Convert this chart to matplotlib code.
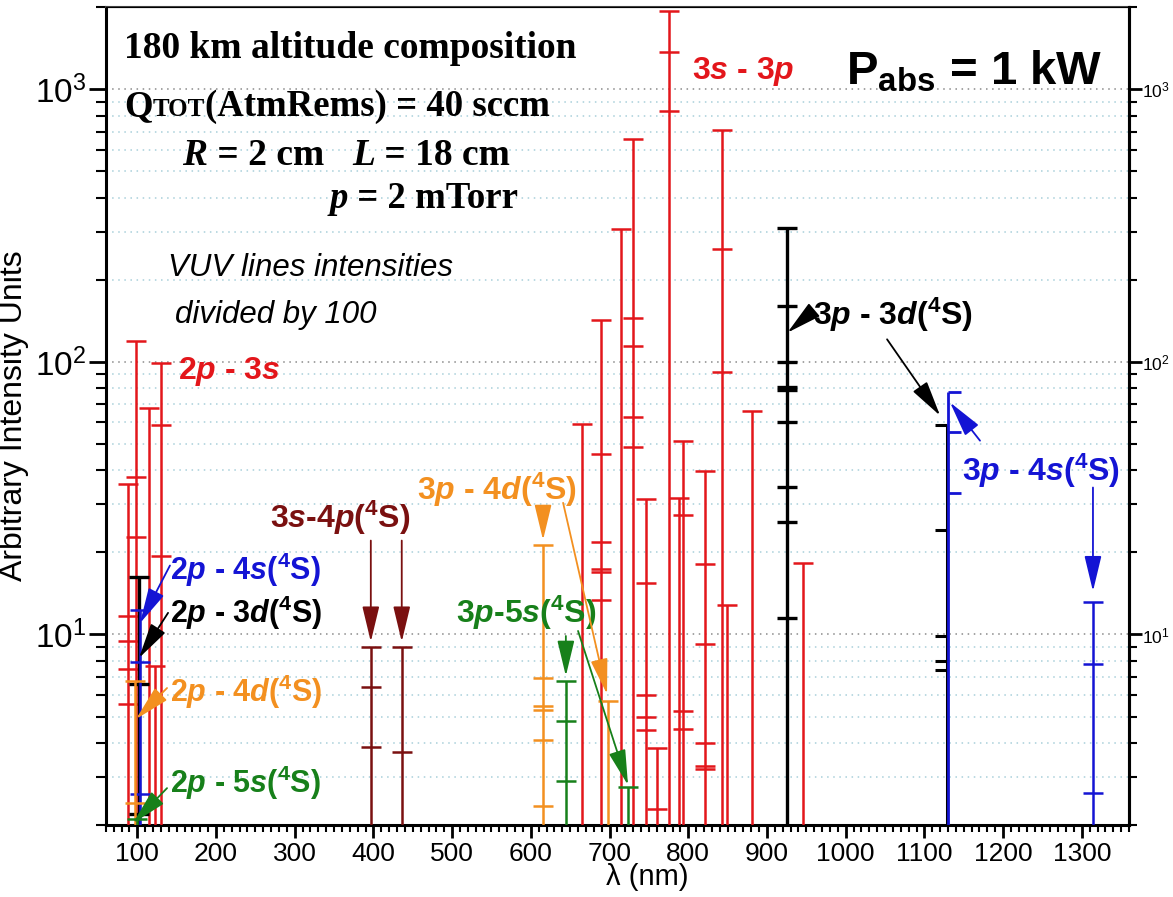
import matplotlib
matplotlib.use("Agg")
import matplotlib.pyplot as plt
from matplotlib.ticker import MultipleLocator, LogLocator, NullFormatter
from matplotlib.transforms import IdentityTransform

plt.rcParams['font.family'] = 'Liberation Sans'
plt.rcParams['mathtext.fontset'] = 'custom'
plt.rcParams['mathtext.it'] = 'Liberation Sans:italic:bold'
plt.rcParams['mathtext.bf'] = 'Liberation Sans:bold'
plt.rcParams['mathtext.rm'] = 'Liberation Sans:bold'

RED = '#e3161b'
MAROON = '#7a1010'
BLUE = '#1414d4'
ORANGE = '#f39020'
GREEN = '#17801a'
BLACK = '#000000'

YMIN, YMAX = 2, 2000

# emission lines: wavelength (nm), top intensity, extra level marks
red_lam = [88.6, 98.3, 115.2, 122.5, 129.7, 664.7, 689, 714.6, 730, 746.4,
           760, 776, 788.7, 793.8, 821, 843, 849.7, 881.5, 946]
red_top = [35.5, 119, 67.6, 7.67, 99, 59.3, 143, 307, 656, 31.4,
           3.83, 1932, 31.8, 51.2, 39.9, 710, 12.8, 65.8, 18.3]
red_marks = [[11.7, 9.5, 7.5, 5.55], [37.9, 22.8], [], [], [58.8, 19.4], [],
             [46, 21.9, 17.4, 16.9, 13.4], [], [145, 114, 63, 48.6],
             [15.4, 5.98, 4.99, 4.48], [2.28], [1375, 832], [],
             [27.5, 5.24, 4.5], [18.1, 9.2, 4.0, 3.3, 3.2], [259, 91.5], [], [], []]

maroon_lam = [396.7, 436]
maroon_top = [9.0, 9.0]
maroon_marks = [[6.4, 3.85], [3.72]]

black_lam = [102, 925]
black_top = [16.2, 310]
black_marks = [[6.6, 2.2], [161, 100, 80.7, 79, 60.4, 34.7, 25.8, 11.5]]

black2_lam = [1128.5]
black2_top = [58.6]
black2_marks = [[24.1, 9.9, 8.0, 7.4]]

blue_lam = [103.5, 1314.7]
blue_top = [12.3, 13.1]
blue_marks = [[7.9, 2.6], [7.78, 2.62]]

blue2_lam = [1129.5]
blue2_top = [77.8]
blue2_marks = [[55.2, 32.9]]

orange_lam = [97, 615, 698.5]
orange_top = [6.75, 21.3, 5.7]
orange_marks = [[2.4], [6.94, 5.46, 5.3, 4.1, 2.34], []]

green_lam = [99, 644.7, 724]
green_top = [2.1, 6.75, 2.75]
green_marks = [[], [4.83, 2.9], []]

fig = plt.figure(figsize=(11.73, 8.97), dpi=100)
ax = fig.add_axes([0.0902, 0.0803, 0.8723, 0.9116])
ax.set_yscale('log')
ax.set_xlim(60, 1360)
ax.set_ylim(YMIN, YMAX)


def sticks(lam, top, marks, color, lw=1.8, ms=14, mk='_'):
    ax.vlines(lam, YMIN, top, color=color, lw=lw, zorder=3)
    ax.plot(lam, top, ls='none', marker=mk, ms=ms, mew=lw, color=color, zorder=3)
    for l, m in zip(lam, marks):
        if m:
            ax.plot([l] * len(m), m, ls='none', marker=mk, ms=ms, mew=lw,
                    color=color, zorder=3)


sticks(red_lam, red_top, red_marks, RED)
sticks(maroon_lam, maroon_top, maroon_marks, MAROON)
sticks(black_lam, black_top, black_marks, BLACK, lw=2.4)
sticks(black2_lam, black2_top, black2_marks, BLACK, lw=2.2, ms=9, mk=0)
sticks(blue2_lam, blue2_top, blue2_marks, BLUE, lw=2.0, ms=9, mk=1)
sticks(blue_lam, blue_top, blue_marks, BLUE)
sticks(orange_lam, orange_top, orange_marks, ORANGE)
sticks(green_lam, green_top, green_marks, GREEN)

# axes cosmetics
ax.xaxis.set_major_locator(MultipleLocator(100))
ax.xaxis.set_minor_locator(MultipleLocator(10))
ax.yaxis.set_minor_locator(LogLocator(subs=range(2, 10)))
ax.yaxis.set_minor_formatter(NullFormatter())
ax.tick_params(axis='x', which='major', direction='out', length=9, width=2, labelsize=19, pad=3)
ax.tick_params(axis='x', which='minor', direction='out', length=5, width=1.5)
ax.tick_params(axis='y', which='major', direction='out', length=12, width=2, labelsize=24, pad=2)
ax.tick_params(axis='y', which='minor', direction='out', length=7, width=1.5)
ax.yaxis.grid(True, which='major', ls=(0, (1, 3)), color='#8a8a8a', lw=1.1)
ax.yaxis.grid(True, which='minor', ls=(0, (1, 3)), color='#a8d0da', lw=1.1)
ax.set_axisbelow(True)
for s in ['left', 'bottom', 'right']:
    ax.spines[s].set_linewidth(2.2)
ax.spines['top'].set_linewidth(1.5)
ax.spines['top'].set_color('#444444')

ax2 = ax.twinx()
ax2.set_yscale('log')
ax2.set_ylim(YMIN, YMAX)
ax2.yaxis.set_minor_locator(LogLocator(subs=range(2, 10)))
ax2.yaxis.set_minor_formatter(NullFormatter())
ax2.tick_params(axis='y', which='major', direction='out', length=9, width=2, labelsize=12.5, pad=0)
ax2.tick_params(axis='y', which='minor', direction='out', length=6, width=1.5)
ax2.spines['right'].set_linewidth(2.2)

ax.set_ylabel('Arbitrary Intensity Units', fontsize=23, labelpad=4)
ax.set_xlabel('λ (nm)', fontsize=21)
ax.xaxis.set_label_coords(0.529, -0.046)

# multi-style text runs on a shared baseline
renderer = fig.canvas.get_renderer()


def runs(fx, fy, parts, size, family='Liberation Serif', color='black'):
    x, y = ax.transAxes.transform((fx, fy))
    for s, style, weight, scale in parts:
        t = fig.text(x, y, s, transform=IdentityTransform(), fontsize=size * scale,
                     family=family, style=style, weight=weight, color=color,
                     ha='left', va='baseline')
        x = t.get_window_extent(renderer).x1


runs(0.018, 0.938, [('180 km altitude composition', 'normal', 'bold', 1)], 27)
runs(0.018, 0.867, [('Q', 'normal', 'bold', 1), ('TOT', 'normal', 'bold', 0.68),
                    ('(AtmRems) = 40 sccm', 'normal', 'bold', 1)], 26.5)
runs(0.075, 0.807, [('R', 'italic', 'bold', 1), (' = 2 cm   ', 'normal', 'bold', 1),
                    ('L', 'italic', 'bold', 1), (' = 18 cm', 'normal', 'bold', 1)], 27)
runs(0.219, 0.754, [('p', 'italic', 'bold', 1), (' = 2 mTorr', 'normal', 'bold', 1)], 26.5)
runs(0.061, 0.671, [('VUV lines intensities', 'italic', 'normal', 1)], 22.5, family='Liberation Sans')
runs(0.068, 0.614, [('divided by 100', 'italic', 'normal', 1)], 22.5, family='Liberation Sans')

ax.text(0.974, 0.905, r'P$_{\mathbf{abs}}$ = 1 kW', transform=ax.transAxes, fontsize=34,
        weight='bold', ha='right', va='baseline')


def label(fx, fy, s, color, ha='left', size=23):
    ax.text(fx, fy, s, transform=ax.transAxes, fontsize=size, weight='bold',
            color=color, ha=ha, va='center')


S4 = r'(${}^{\mathbf{4}}$S)'
label(0.573, 0.921, r'3$\mathit{s}$ - 3$\mathit{p}$', RED)
label(0.0705, 0.554, r'2$\mathit{p}$ - 3$\mathit{s}$', RED)
label(0.160, 0.375, r'3$\mathit{s}$-4$\mathit{p}$' + S4, MAROON)
label(0.0627, 0.312, r'2$\mathit{p}$ - 4$\mathit{s}$' + S4, BLUE, size=22)
label(0.0627, 0.259, r'2$\mathit{p}$ - 3$\mathit{d}$' + S4, BLACK, size=22)
label(0.0627, 0.163, r'2$\mathit{p}$ - 4$\mathit{d}$' + S4, ORANGE, size=22)
label(0.0627, 0.051, r'2$\mathit{p}$ - 5$\mathit{s}$' + S4, GREEN, size=22)
label(0.4605, 0.41, r'3$\mathit{p}$ - 4$\mathit{d}$' + S4, ORANGE, ha='right')
label(0.4797, 0.26, r'3$\mathit{p}$-5$\mathit{s}$' + S4, GREEN, ha='right')
label(0.691, 0.624, r'3$\mathit{p}$ - 3$\mathit{d}$' + S4, BLACK)
label(0.991, 0.433, r'3$\mathit{p}$ - 4$\mathit{s}$' + S4, BLUE, ha='right')


def arrow(tail, head, color, lw=1.3):
    ax.annotate('', xy=head, xytext=tail,
                arrowprops=dict(arrowstyle='-|>,head_length=1.0,head_width=0.24',
                                mutation_scale=22, color=color, lw=lw,
                                shrinkA=0, shrinkB=0), zorder=5)


arrow((396.7, 22.1), (396.7, 9.4), MAROON)
arrow((436, 22.1), (436, 9.4), MAROON)
arrow((141.5, 17.9), (103.4, 11.0), BLUE)
arrow((139.1, 12.0), (102.2, 8.2), BLACK)
arrow((137.8, 6.36), (98.3, 4.89), ORANGE)
arrow((137.8, 2.73), (94.5, 2.03), GREEN)
arrow((615.5, 28.9), (615.5, 22.2), ORANGE)
arrow((641, 30.4), (696.8, 6.04), ORANGE)
arrow((644.5, 9.87), (644.5, 7.04), GREEN)
arrow((660, 10.3), (723.5, 2.8), GREEN)
arrow((954.8, 150.6), (926, 128), BLACK)
arrow((1052.6, 121), (1120, 63.5), BLACK)
arrow((1170.7, 51.4), (1132.6, 71), BLUE)
arrow((1314.2, 34.6), (1314.2, 14.4), BLUE)

fig.savefig('out.png', dpi=100)
